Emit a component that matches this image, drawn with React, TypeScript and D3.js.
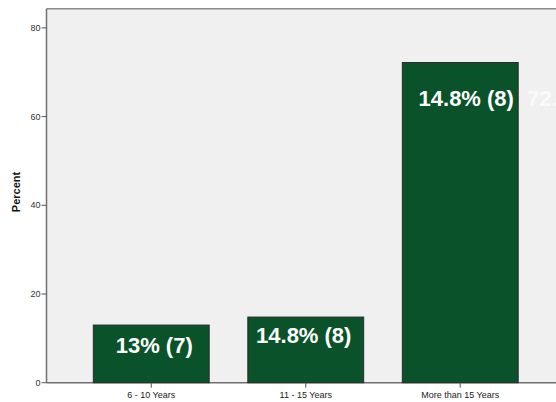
import React from "react";
import * as d3 from "d3";

const categories = ["6 - 10 Years", "11 - 15 Years", "More than 15 Years"];
const percents = [13.0, 14.8, 72.2];
const barLabels = ["13% (7)", "14.8% (8)", "14.8% (8)"];
const yTicks = [0, 20, 40, 60, 80];

const W = 556;
const H = 402;
const left = 46.5;
const top = 8.7;
const bottom = 382.7;
const right = 565;

export default function App() {
  const x = d3
    .scaleBand<string>()
    .domain(categories)
    .range([left, right])
    .paddingInner(0.25)
    .paddingOuter(0.303);
  const y = d3.scaleLinear().domain([0, 80]).range([bottom, 27.9]);
  const font = "'Liberation Sans', Arial, sans-serif";
  const labelOffsets = [
    { dx: 3, y: 353 },
    { dx: -2, y: 343 },
    { dx: 6, y: 106 },
  ];

  return (
    <svg
      width={W}
      height={H}
      style={{ position: "absolute", left: 0, top: 0 }}
      fontFamily={font}
    >
      <rect x={0} y={0} width={W} height={H} fill="#ffffff" />
      <rect x={left} y={top} width={right - left} height={bottom - top} fill="#f0f0f0" />
      {/* frame */}
      <line x1={left} x2={right} y1={top} y2={top} stroke="#8a8a8a" strokeWidth={1.5} />
      <line x1={left} x2={right} y1={bottom} y2={bottom} stroke="#707070" strokeWidth={1.5} />
      <line x1={left} x2={left} y1={top} y2={bottom} stroke="#707070" strokeWidth={1.5} />

      {categories.map((c, i) => (
        <rect
          key={c}
          x={x(c)!}
          y={y(percents[i])}
          width={x.bandwidth()}
          height={y(0) - y(percents[i])}
          fill="#0a5229"
          stroke="#2b2b2b"
          strokeWidth={1}
        />
      ))}

      {/* y ticks */}
      {yTicks.map((t) => (
        <g key={t}>
          <line x1={left - 5} x2={left} y1={y(t)} y2={y(t)} stroke="#555" strokeWidth={1} />
          <text
            x={left - 6}
            y={y(t)}
            dy="0.35em"
            textAnchor="end"
            fontSize={9}
            fill="#333"
          >
            {t}
          </text>
        </g>
      ))}

      {/* x ticks */}
      {categories.map((c) => {
        const cx = x(c)! + x.bandwidth() / 2;
        return (
          <g key={c}>
            <line x1={cx} x2={cx} y1={bottom} y2={bottom + 5} stroke="#555" strokeWidth={1} />
            <text x={cx} y={398} textAnchor="middle" fontSize={9} fill="#222">
              {c}
            </text>
          </g>
        );
      })}

      {/* bar labels */}
      {categories.map((c, i) => {
        const cx = x(c)! + x.bandwidth() / 2 + labelOffsets[i].dx;
        return (
          <text
            key={c}
            x={cx}
            y={labelOffsets[i].y}
            textAnchor="middle"
            fontSize={22}
            fontWeight="bold"
            fill="#ffffff"
          >
            {barLabels[i]}
          </text>
        );
      })}
      <text x={527} y={106} fontSize={22} fontWeight="bold" fill="#fafafa">
        72.2%
      </text>

      <text
        transform="translate(20,192) rotate(-90)"
        textAnchor="middle"
        fontSize={11}
        fontWeight="bold"
        fill="#111"
      >
        Percent
      </text>
    </svg>
  );
}
